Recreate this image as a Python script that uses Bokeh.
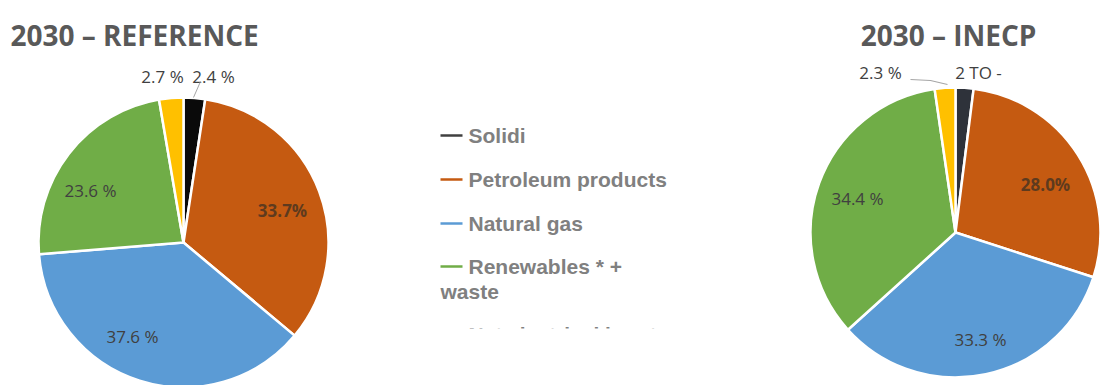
import math
from bokeh.plotting import figure
from bokeh.models import Range1d
from bokeh.core.properties import value
from bokeh.embed import file_html
from bokeh.resources import INLINE

# ---- data ----
categories = ["Solidi", "Petroleum products", "Natural gas",
              "Renewables * + waste", "Net electrical input"]
reference_2030 = [2.4, 33.7, 37.6, 23.6, 2.7]
inecp_2030 = [2.0, 28.0, 33.3, 34.4, 2.3]
reference_labels = ["2.4 %", "33.7%", "37.6 %", "23.6 %", "2.7 %"]
inecp_labels = ["2 TO -", "28.0%", "33.3 %", "34.4 %", "2.3 %"]

# ---- styling ----
W, H = 1101, 385
colors_ref = ["#0a0a0a", "#c55a11", "#5b9bd5", "#70ad47", "#ffc000"]
colors_inecp = ["#2e323a", "#c55a11", "#5b9bd5", "#70ad47", "#ffc000"]
legend_colors = ["#404040", "#c55a11", "#5b9bd5", "#70ad47", "#ffc000"]
label_color = "#404040"
title_color = "#595959"
legend_text_color = "#808080"


def Y(ypix):
    """Convert a top-down pixel row into the plot's y coordinate."""
    return H - ypix


p = figure(width=W, height=H, output_backend="svg", toolbar_location=None,
           x_range=Range1d(0, W), y_range=Range1d(0, H),
           min_border=0, outline_line_color=None)
p.axis.visible = False
p.grid.visible = False
p.background_fill_color = "white"
p.border_fill_color = "white"


def draw_pie(cx, cy, r, values, colors, labels, label_pos, label_colors,
             label_styles):
    total = sum(values)
    cum = 0.0
    starts, ends = [], []
    for v in values:
        a0 = math.pi / 2 - 2 * math.pi * cum / total
        cum += v
        a1 = math.pi / 2 - 2 * math.pi * cum / total
        starts.append(a0)
        ends.append(a1)
    p.wedge(x=[cx] * len(values), y=[Y(cy)] * len(values), radius=r,
            start_angle=starts, end_angle=ends, direction="clock",
            fill_color=colors, line_color="white", line_width=2.5)
    for (lx, ly), txt, col, sty in zip(label_pos, labels, label_colors,
                                       label_styles):
        p.text(x=[lx], y=[Y(ly)], text=[txt], text_align="center",
               text_baseline="middle", text_font=value("Open Sans"),
               text_font_size="17px", text_color=col, text_font_style=sty)


styles = ["normal", "bold", "normal", "normal", "normal"]
label_colors = [label_color, "#5e3a1e", label_color, label_color, label_color]

# reference pie
draw_pie(183, 242, 145, reference_2030, colors_ref, reference_labels,
         [(213, 76), (282, 210), (132, 336), (90, 190), (162, 76)],
         label_colors, styles)
p.line(x=[200, 193], y=[Y(81), Y(97)], line_color="#a6a6a6", line_width=1)

# INECP pie
draw_pie(955, 232, 145, inecp_2030, colors_inecp, inecp_labels,
         [(978, 72), (1045, 184), (980, 339), (857, 198), (880, 72)],
         label_colors, styles)
p.line(x=[910, 930, 947], y=[Y(79), Y(80), Y(84)],
       line_color="#a6a6a6", line_width=1.2)

# titles
p.text(x=[10], y=[Y(34)], text=["2030 – REFERENCE"], text_align="left",
       text_baseline="alphabetic", text_font=value("Open Sans"),
       text_font_style="bold", text_font_size="28px", text_color=title_color)
p.text(x=[948], y=[Y(34)], text=["2030 – INECP"], text_align="center",
       text_baseline="alphabetic", text_font=value("Open Sans"),
       text_font_style="bold", text_font_size="28px", text_color=title_color)

# legend
legend_rows = [135, 179, 223, 266, 334]
legend_texts = ["Solidi", "Petroleum products", "Natural gas",
                "Renewables * +", "Net electrical input"]
for row, txt, col in zip(legend_rows, legend_texts, legend_colors):
    p.line(x=[440, 462], y=[Y(row), Y(row)], line_color=col, line_width=2.5)
    p.text(x=[468], y=[Y(row)], text=[txt], text_align="left",
           text_baseline="middle", text_font=value("Liberation Sans"),
           text_font_style="bold", text_font_size="21px",
           text_color=legend_text_color)
p.text(x=[440], y=[Y(291)], text=["waste"], text_align="left",
       text_baseline="middle", text_font=value("Liberation Sans"),
       text_font_style="bold", text_font_size="21px",
       text_color=legend_text_color)
# the last legend entry is cut off by the box below it
p.quad(left=[420], right=[700], top=[Y(328)], bottom=[Y(360)],
       fill_color="white", line_color=None)

open("out.html", "w").write(file_html(p, INLINE))
